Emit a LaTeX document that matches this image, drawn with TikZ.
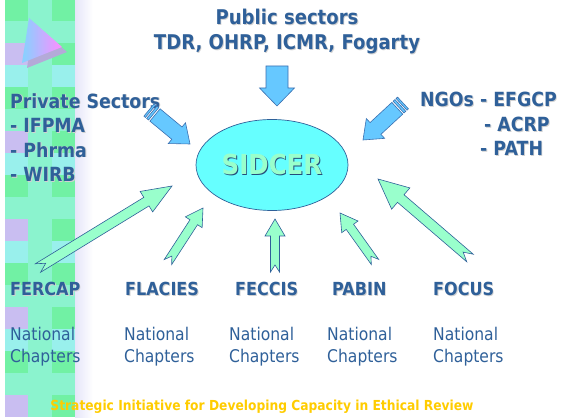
\documentclass[tikz,border=0pt]{standalone}
\usepackage{fontspec}
\setmainfont[FakeStretch=0.89]{DejaVu Sans}
\usetikzlibrary{calc,positioning,shapes.geometric}

\definecolor{inkblue}{HTML}{2F6099}
\definecolor{skyfill}{HTML}{66C8FF}
\definecolor{skyline}{HTML}{3A6FB0}
\definecolor{mintfill}{HTML}{99FFCC}
\definecolor{cyanfill}{HTML}{66FFFF}
\definecolor{goldtext}{HTML}{FFCC00}
\definecolor{mos0}{HTML}{C2B6F0}
\definecolor{mos1}{HTML}{8CEFEA}
\definecolor{mos2}{HTML}{5EF098}
\definecolor{mos3}{HTML}{7CF2C8}
\definecolor{trishade}{HTML}{B4AAD8}

\newcommand{\shd}[2][black!18]{\rlap{\kern0.9pt\raisebox{-0.9pt}{\color{#1}#2}}#2}

\tikzset{
  arr sw/.store in=\arrsw, arr hw/.store in=\arrhw,
  arr hl/.store in=\arrhl, arr notch/.store in=\arrnotch,
  arr sw=4.5pt, arr hw=10pt, arr hl=17pt, arr notch=7pt,
  blockarrow/.style={draw=inkblue, fill=mintfill, line width=0.6pt,
    to path={
      ($(\tikztostart)!\arrsw!90:(\tikztotarget)$)
      -- ($($(\tikztotarget)!\arrhl!(\tikztostart)$)!\arrsw!90:(\tikztotarget)$)
      -- ($($(\tikztotarget)!\arrhl!(\tikztostart)$)!\arrhw!90:(\tikztotarget)$)
      -- (\tikztotarget)
      -- ($($(\tikztotarget)!\arrhl!(\tikztostart)$)!\arrhw!-90:(\tikztotarget)$)
      -- ($($(\tikztotarget)!\arrhl!(\tikztostart)$)!\arrsw!-90:(\tikztotarget)$)
      -- ($(\tikztostart)!\arrsw!-90:(\tikztotarget)$)
      -- ($(\tikztostart)!\arrnotch!(\tikztotarget)$)
      -- cycle}},
  stripedarrow/.style={draw=skyline, fill=skyfill, line width=0.6pt,
    arr sw=8pt, arr hw=13.5pt, arr hl=17pt,
    to path={
      ($(\tikztostart)!\arrsw!90:(\tikztotarget)$)
      -- ($($(\tikztostart)!2pt!(\tikztotarget)$)!\arrsw!90:(\tikztotarget)$)
      -- ($($(\tikztostart)!2pt!(\tikztotarget)$)!\arrsw!-90:(\tikztotarget)$)
      -- ($(\tikztostart)!\arrsw!-90:(\tikztotarget)$) -- cycle
      ($($(\tikztostart)!3.6pt!(\tikztotarget)$)!\arrsw!90:(\tikztotarget)$)
      -- ($($(\tikztostart)!6pt!(\tikztotarget)$)!\arrsw!90:(\tikztotarget)$)
      -- ($($(\tikztostart)!6pt!(\tikztotarget)$)!\arrsw!-90:(\tikztotarget)$)
      -- ($($(\tikztostart)!3.6pt!(\tikztotarget)$)!\arrsw!-90:(\tikztotarget)$) -- cycle
      ($($(\tikztostart)!7.8pt!(\tikztotarget)$)!\arrsw!90:(\tikztotarget)$)
      -- ($($(\tikztotarget)!\arrhl!(\tikztostart)$)!\arrsw!90:(\tikztotarget)$)
      -- ($($(\tikztotarget)!\arrhl!(\tikztostart)$)!\arrhw!90:(\tikztotarget)$)
      -- (\tikztotarget)
      -- ($($(\tikztotarget)!\arrhl!(\tikztostart)$)!\arrhw!-90:(\tikztotarget)$)
      -- ($($(\tikztotarget)!\arrhl!(\tikztostart)$)!\arrsw!-90:(\tikztotarget)$)
      -- ($($(\tikztostart)!7.8pt!(\tikztotarget)$)!\arrsw!-90:(\tikztotarget)$)
      -- cycle}},
  title/.style={inner sep=0pt, text=inkblue,
    font=\fontsize{19.5}{24.5}\selectfont\bfseries},
  orgname/.style={inner sep=0pt, anchor=base west, text=inkblue,
    font=\fontsize{18}{20}\selectfont\bfseries},
  chapter/.style={inner sep=0pt, anchor=north west, align=left, text=inkblue,
    font=\fontsize{17.5}{22}\selectfont}
}

\begin{document}
\begin{tikzpicture}[x=1pt, y=1pt]
\useasboundingbox (0,0) rectangle (561,417);
% side strip
\foreach \col in {0,1,2}
  \foreach \row in {0,...,18} {
    \pgfmathtruncatemacro\k{mod(\row*3+\col*2+\row*\col+\col,4)}
    \ifnum\col>0 \ifnum\k=0 \def\k{2}\fi\fi
    \fill[mos\k] (5+\col*23.34,\row*22) rectangle ++(23.34,22);
  }
\fill[white, opacity=0.12] (5,0) rectangle (75,417);
\shade[left color=black!22!blue!10, right color=white] (75,0) rectangle (93,417);
\fill[trishade] (34,394) -- (27,349) -- (67,365) -- cycle;
\shade[left color=skyfill!80!white, right color=magenta!45!white]
  (29,399) -- (22,354) -- (62,370) -- cycle;

% texts
\node[title, font=\fontsize{20.3}{25}\selectfont\bfseries, anchor=north,
  align=center] (pub) at (287,408)
  {\shd{Public sectors}\\\shd{TDR, OHRP, ICMR, Fogarty}};
\node[title, anchor=north west, align=left] (priv) at (10,324)
  {\shd{Private Sectors}\\\shd{- IFPMA}\\\shd{- Phrma}\\\shd{- WIRB}};
\node[title, anchor=north west, align=left] (ngo) at (420,325)
  {\shd{NGOs - EFGCP}\\\hspace*{64pt}\shd{- ACRP}\\\hspace*{60pt}\shd{- PATH}};

\node[ellipse, draw=inkblue, line width=0.7pt, fill=cyanfill,
  minimum width=152pt, minimum height=91pt, inner sep=0pt,
  text=mintfill, font=\fontsize{27.5}{30}\selectfont\bfseries] (sidcer) at (272,252)
  {\shd[inkblue!80!black]{SIDCER}};

\node[orgname] (fercap) at (10,121) {\shd{FERCAP}};
\node[orgname] (flacies) at (125,121) {\shd{FLACIES}};
\node[orgname] (feccis) at (235,121) {\shd{FECCIS}};
\node[orgname] (pabin) at (332,121) {\shd{PABIN}};
\node[orgname] (focus) at (433,121) {\shd{FOCUS}};

\node[chapter] (nc1) at (10,90) {National\\Chapters};
\node[chapter] (nc2) at (124,90) {National\\Chapters};
\node[chapter] (nc3) at (229,90) {National\\Chapters};
\node[chapter] (nc4) at (327,90) {National\\Chapters};
\node[chapter] (nc5) at (433,90) {National\\Chapters};

\node[inner sep=0pt, anchor=base, text=goldtext,
  font=\fontsize{13.8}{15}\selectfont\bfseries] (foot) at (262,7)
  {Strategic Initiative for Developing Capacity in Ethical Review};

% arrow ends
\coordinate (pubT) at (277,351);   \coordinate (pubH) at (277,311);
\coordinate (privT) at (149,307);  \coordinate (privH) at (190,273);
\coordinate (ngoT) at (403,314);   \coordinate (ngoH) at (363,277);
\coordinate (g1T) at (38,149);     \coordinate (g1H) at (172,231);
\coordinate (g2T) at (168,155);    \coordinate (g2H) at (203,209);
\coordinate (g3T) at (275,145);    \coordinate (g3H) at (275,198);
\coordinate (g4T) at (375,155);    \coordinate (g4H) at (340,204);
\coordinate (g5T) at (470,159);    \coordinate (g5H) at (378,238);

\draw[blockarrow, draw=skyline, fill=skyfill, arr sw=11pt, arr hw=17.5pt,
  arr hl=18pt, arr notch=0pt] (pubT) to (pubH);
\draw[stripedarrow] (privT) to (privH);
\draw[stripedarrow] (ngoT) to (ngoH);
\draw[blockarrow, arr sw=5pt, arr hw=12pt, arr hl=30pt, arr notch=9pt] (g1T) to (g1H);
\draw[blockarrow] (g2T) to (g2H);
\draw[blockarrow] (g3T) to (g3H);
\draw[blockarrow] (g4T) to (g4H);
\draw[blockarrow, arr sw=5pt, arr hw=14pt, arr hl=30pt, arr notch=9pt] (g5T) to (g5H);
\end{tikzpicture}
\end{document}
